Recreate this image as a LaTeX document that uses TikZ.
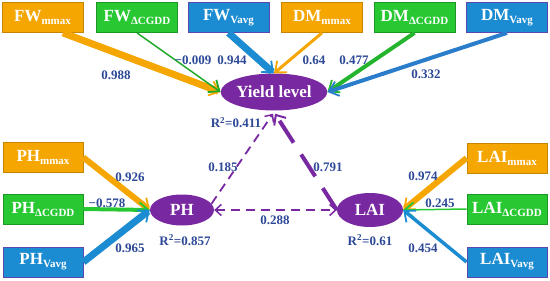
\documentclass[tikz,border=0pt]{standalone}
\usepackage{fontspec}
\setmainfont{Liberation Serif}
\usetikzlibrary{arrows.meta,shapes.geometric,calc}
\definecolor{cor}{RGB}{246,166,0}
\definecolor{cgr}{RGB}{40,200,50}
\definecolor{cbl}{RGB}{28,140,210}
\definecolor{cpu}{RGB}{120,40,160}
\definecolor{cnum}{RGB}{44,72,150}
\newcommand{\bxlab}[2]{{\fontsize{17pt}{17pt}\selectfont #1}\raisebox{-3pt}{\fontsize{11pt}{11pt}\selectfont #2}}
\tikzset{ptip/.tip={Straight Barb[length=6pt,width=11pt,line width=1.5pt]}}
\begin{document}
\begin{tikzpicture}[x=1pt,y=-1pt,
  box/.style={rectangle, minimum width=81pt, minimum height=30pt, inner sep=0pt, text=white, font=\bfseries, line width=0.8pt},
  obox/.style={box, fill=cor, draw=cor!80!black},
  gbox/.style={box, fill=cgr, draw=cgr!75!black},
  bbox/.style={box, fill=cbl, draw=cpu!70!cbl},
  ell/.style={ellipse, fill=cpu, text=white, font=\bfseries\fontsize{17pt}{17pt}\selectfont, inner sep=0pt},
  num/.style={text=cnum, font=\bfseries\fontsize{13pt}{13pt}\selectfont, inner sep=0pt},
  arr/.style={-{Straight Barb[length=9pt,width=15pt,line width=1.8pt]}},
  darr/.style={cpu, line width=1.8pt, dash pattern=on 9pt off 6pt}
]
\useasboundingbox (0,0) rectangle (550,281);

% top boxes
\node[obox] (fwm) at (42.5,17.5) {\bxlab{FW}{mmax}};
\node[gbox] (fwc) at (137,17.5) {\bxlab{FW}{ΔCGDD}};
\node[bbox] (fwv) at (228.5,17.5) {\bxlab{FW}{Vavg}};
\node[obox] (dmm) at (322,17.5) {\bxlab{DM}{mmax}};
\node[gbox] (dmc) at (414.5,17.5) {\bxlab{DM}{ΔCGDD}};
\node[bbox] (dmv) at (507,17.5) {\bxlab{DM}{Vavg}};
% left boxes
\node[obox, minimum width=80pt] (phm) at (43,157.5) {\bxlab{PH}{mmax}};
\node[gbox, minimum width=80pt] (phc) at (43,209) {\bxlab{PH}{ΔCGDD}};
\node[bbox, minimum width=80pt] (phv) at (43,262) {\bxlab{PH}{Vavg}};
% right boxes
\node[obox, minimum width=80pt] (laim) at (507,158) {\bxlab{LAI}{mmax}};
\node[gbox, minimum width=80pt] (laic) at (507,209) {\bxlab{LAI}{ΔCGDD}};
\node[bbox, minimum width=80pt] (laiv) at (507,262) {\bxlab{LAI}{Vavg}};

% ellipses
\node[ell, minimum width=90pt, minimum height=37pt] (yield) at (274,92) {Yield level};
\node[ell, minimum width=64pt, minimum height=31pt] (ph) at (182,210) {PH};
\node[ell, minimum width=66pt, minimum height=34pt] (lai) at (370,210) {LAI};

% arrows to yield
\draw[arr, cor, line width=7pt] ($(fwm.south)!0.5!(fwm.south east)$) -- (yield.west);
\draw[arr, cgr!85!black, line width=1.5pt] (fwc.south) -- (yield.west);
\draw[arr, cbl, line width=7pt] (fwv.south) -- (yield.north);
\draw[arr, cor, line width=3pt] (dmm.south) -- (yield.north);
\draw[arr, cgr!90!black, line width=4pt] (dmc.south) -- (yield.east);
\draw[arr, cbl!85!cpu, line width=4pt] (dmv.south) -- (yield.east);

% arrows to PH
\draw[arr, cor, line width=6pt] (phm.east) -- (ph.west);
\draw[arr, cgr, line width=4pt] (phc.east) -- (ph.west);
\draw[arr, cbl, line width=7pt] (phv.east) -- (ph.west);

% arrows to LAI
\draw[arr, cor, line width=6pt] (laim.west) -- (lai.east);
\draw[arr, cgr, line width=1.5pt] (laic.west) -- (lai.east);
\draw[arr, cbl, line width=3.5pt] (laiv.west) -- (lai.east);

% purple paths
\draw[darr, -{ptip}] (ph.12) -- ($(yield.south)+(-1,3)$);
\draw[darr, {ptip}-{ptip}] (ph.east) -- (lai.west);
\draw[cpu, line width=4pt, dash pattern=on 26pt off 14pt, -{Straight Barb[length=8pt,width=14pt,line width=2pt]}] (lai.west) -- ($(yield.south)+(1,3)$);

% labels
\node[num] (l1) at (116,75) {0.988};
\node[num] (l2) at (193,60) {−0.009};
\node[num] (l3) at (232,60) {0.944};
\node[num] (l4) at (314,60) {0.64};
\node[num] (l5) at (354,60) {0.477};
\node[num] (l6) at (426,74.5) {0.332};
\node[num] (r1) at (236,122.5) {R\textsuperscript{2}=0.411};
\node[num] (l7) at (223,167) {0.185};
\node[num] (l8) at (328,167) {0.791};
\node[num] (l9) at (275,220) {0.288};
\node[num] (r2) at (185,240) {R\textsuperscript{2}=0.857};
\node[num] (l10) at (130,177) {0.926};
\node[num] (l11) at (107,203.5) {−0.578};
\node[num] (l12) at (130,248) {0.965};
\node[num] (r3) at (370,240) {R\textsuperscript{2}=0.61};
\node[num] (l13) at (423,176) {0.974};
\node[num] (l14) at (440,203.5) {0.245};
\node[num] (l15) at (423,248) {0.454};
\end{tikzpicture}
\end{document}
